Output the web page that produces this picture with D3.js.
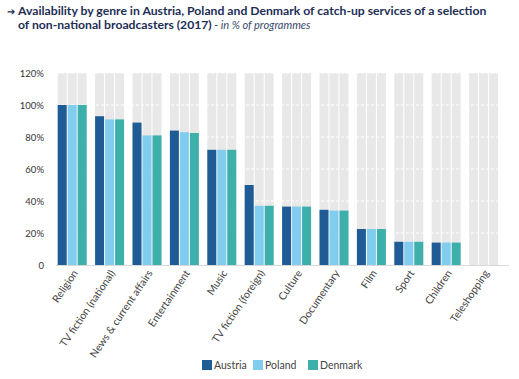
<!DOCTYPE html>
<html>
<head>
<meta charset="utf-8">
<script src="https://cdn.jsdelivr.net/npm/d3@7"></script>
<style>
  body { margin: 0; background: #fff; }
  svg { font-family: Lato, "Open Sans", sans-serif; }
</style>
</head>
<body>
<svg width="519" height="379"></svg>
<script>
const genres = ["Religion", "TV fiction (national)", "News & current affairs", "Entertainment", "Music",
  "TV fiction (foreign)", "Culture", "Documentary", "Film", "Sport", "Children", "Teleshopping"];
const countries = ["Austria", "Poland", "Denmark"];
const austria = [100, 93, 89, 84, 72, 50, 36.5, 34.5, 22.5, 14.5, 14, 0];
const poland  = [100, 91, 81, 83, 72, 37, 36.5, 34, 22.5, 14.5, 14, 0];
const denmark = [100, 91, 81, 82.5, 72, 37, 36.5, 34, 22.5, 14.5, 14, 0];
const yTicks = [0, 20, 40, 60, 80, 100, 120];
const colors = ["#1f5b94", "#80cdf0", "#3db0ac"];

const data = genres.map((g, i) => ({ genre: g, values: [austria[i], poland[i], denmark[i]] }));

var svg = d3.select("svg");

// title
var title = svg.append("text").attr("fill", "#1c2e55").attr("font-weight", "bold").attr("font-size", 12.2);
svg.append("text").attr("x", 7).attr("y", 15).attr("fill", "#1c2e55").attr("font-size", 10).text("➔");
title.append("tspan").attr("x", 18).attr("y", 15)
  .text("Availability by genre in Austria, Poland and Denmark of catch-up services of a selection");
title.append("tspan").attr("x", 18).attr("y", 29).text("of non-national broadcasters (2017)");
title.append("tspan").attr("font-weight", "normal").attr("font-style", "italic").attr("font-size", 11)
  .attr("fill", "#3a4a6a").text(" - in % of programmes");

var x = d3.scaleBand().domain(genres).range([53.5, 502.3]).paddingInner(0.225).paddingOuter(0.1125);
var xs = d3.scaleBand().domain(countries).range([0, x.bandwidth()]).paddingInner(0.1);
var y = d3.scaleLinear().domain([0, 120]).range([265, 73]);

var g = svg.append("g");

// grey backgrounds
var groups = g.selectAll(".grp").data(data).enter().append("g")
  .attr("transform", d => "translate(" + x(d.genre) + ",0)");

groups.selectAll(".bg").data(countries).enter().append("rect")
  .attr("x", c => xs(c)).attr("width", xs.bandwidth())
  .attr("y", y(120)).attr("height", y(0) - y(120))
  .attr("fill", "#e8e8e8");

// dashed grid
g.selectAll(".grid").data(yTicks.filter(t => t > 0)).enter().append("line")
  .attr("x1", 56).attr("x2", 508)
  .attr("y1", d => y(d)).attr("y2", d => y(d))
  .attr("stroke", "#fff").attr("stroke-width", 1).attr("stroke-dasharray", "3,2");

// bars
svg.selectAll(".bars").data(data).enter().append("g")
  .attr("transform", d => "translate(" + x(d.genre) + ",0)")
  .selectAll("rect").data(d => d.values.map((v, i) => ({ c: countries[i], v: v, i: i }))).enter().append("rect")
  .attr("x", d => xs(d.c)).attr("width", xs.bandwidth())
  .attr("y", d => y(d.v)).attr("height", d => y(0) - y(d.v))
  .attr("fill", d => colors[d.i]);

// baseline
svg.append("line").attr("x1", 56).attr("x2", 509).attr("y1", y(0) + 0.5).attr("y2", y(0) + 0.5)
  .attr("stroke", "#d9d9d9");

// y axis labels
var yAxis = svg.append("g").attr("transform", "translate(44,0)")
  .call(d3.axisLeft(y).tickValues(yTicks).tickSize(0).tickPadding(0)
    .tickFormat(d => d === 0 ? "0" : d + "%"));
yAxis.select(".domain").remove();
yAxis.selectAll("text").attr("font-size", 9.5).attr("fill", "#333").attr("font-family", "Lato, sans-serif");

// x axis labels
var xAxis = svg.append("g").attr("transform", "translate(0," + (y(0) + 6) + ")")
  .call(d3.axisBottom(x).tickSize(0).tickPadding(0));
xAxis.select(".domain").remove();
xAxis.selectAll("text")
  .attr("font-size", 10.5).attr("fill", "#444").attr("font-family", "Lato, sans-serif")
  .attr("text-anchor", "end").attr("dy", "0.35em")
  .attr("transform", "translate(3,0) rotate(-56)");

// legend
var legend = svg.append("g").attr("transform", "translate(202,360)");
var lx = [0, 51, 106];
countries.forEach((c, i) => {
  legend.append("rect").attr("x", lx[i]).attr("y", 0).attr("width", 10).attr("height", 10).attr("fill", colors[i]);
  legend.append("text").attr("x", lx[i] + 12).attr("y", 9).attr("font-size", 10.5).attr("fill", "#444").text(c);
});
</script>
</body>
</html>
